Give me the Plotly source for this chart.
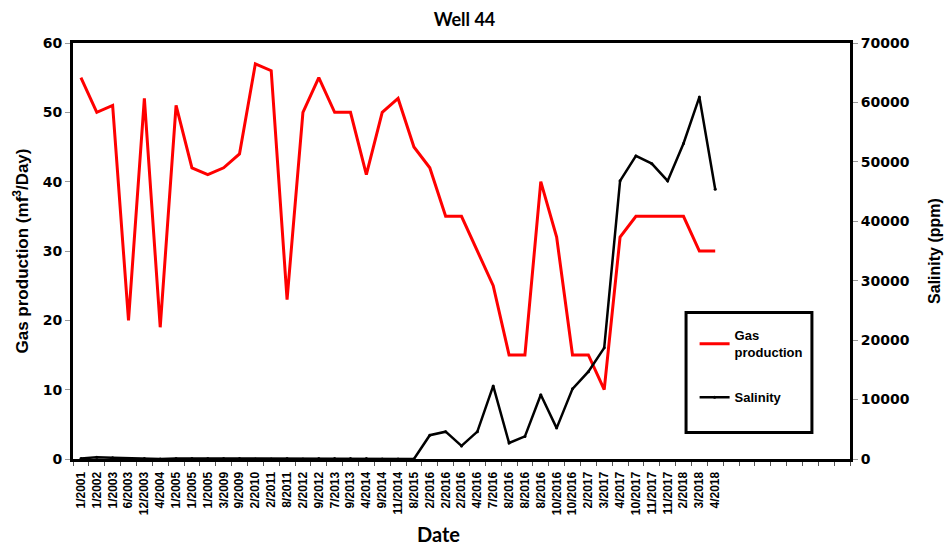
import plotly.graph_objects as go

dates = ["1/2001","1/2002","1/2003","6/2003","12/2003","4/2004","1/2005","1/2005","1/2005","3/2009",
         "9/2009","2/2010","2/2011","8/2011","2/2012","9/2012","7/2013","9/2013","4/2014","9/2014",
         "11/2014","8/2015","2/2016","2/2016","2/2016","4/2016","7/2016","8/2016","8/2016","8/2016",
         "10/2016","10/2016","2/2017","3/2017","4/2017","10/2017","11/2017","11/2017","2/2018","3/2018",
         "4/2018"]
gas = [55,50,51,20,52,19,51,42,41,42,44,57,56,23,50,55,50,50,41,50,52,45,42,35,35,30,25,15,15,40,
       32,15,15,10,32,35,35,35,35,30,30]
salinity = [100,300,200,100,100,0,100,100,100,100,100,0,0,100,0,100,100,100,100,0,0,0,
            4000,4600,2200,4600,12300,2700,3800,10800,5200,11800,14700,18700,46800,51000,49700,
            46800,53100,60900,45400]
n_slots = 49  # category slots on the axis (empty ones at the right)

xs = list(range(len(dates)))

ARIAL = "Liberation Sans"
fig = go.Figure()
fig.add_trace(go.Scatter(x=xs, y=gas, name="Gas<br>production", mode="lines",
                         line=dict(color="#ff0000", width=3), legendgroup="g"))
fig.add_trace(go.Scatter(x=xs, y=salinity, name="Salinity", mode="lines+markers", yaxis="y2",
                         line=dict(color="#000000", width=2.5), marker=dict(size=3, color="black"),
                         legendgroup="s"))

L, R, T, B = 73, 94, 43, 86
fig.update_layout(
    width=944, height=545,
    margin=dict(l=L, r=R, t=T, b=B, autoexpand=False),
    paper_bgcolor="white", plot_bgcolor="white",
    title=dict(text="Well 44", x=0.492, xref="container", xanchor="center", y=0.963, yanchor="middle",
               font=dict(family="Lato", size=18, color="black", weight="bold")),
    xaxis=dict(range=[-0.5, n_slots - 0.5], tickmode="array", tickvals=xs, ticktext=dates,
               tickangle=-90, ticks="outside", ticklen=5, tickcolor="rgba(0,0,0,0)",
               tickfont=dict(family=ARIAL, size=12, color="black", weight="bold"),
               showgrid=False, zeroline=False, automargin=False,
               showline=True, linecolor="black", linewidth=3, mirror=True,
               minor=dict(tickmode="linear", tick0=-0.5, dtick=1, ticks="outside", ticklen=4,
                          tickcolor="#555555", tickwidth=1, showgrid=False)),
    yaxis=dict(range=[0, 60], dtick=10, ticks="outside", ticklen=5, tickcolor="#999999",
               tickfont=dict(family="DejaVu Sans", size=14, color="black", weight="bold"),
               showgrid=False, zeroline=False, showline=True, linecolor="black", linewidth=3,
               automargin=False,
               title=dict(text="Gas production (mf<sup>3</sup>/Day)", standoff=10,
                          font=dict(family=ARIAL, size=17, color="black", weight="bold"))),
    yaxis2=dict(range=[0, 70000], dtick=10000, tickformat="d", overlaying="y", side="right",
                ticks="outside", ticklen=5, tickcolor="#999999", automargin=False,
                tickfont=dict(family="DejaVu Sans", size=14, color="black", weight="bold"),
                showgrid=False, zeroline=False, showline=True, linecolor="black", linewidth=3,
                title=dict(text="Salinity (ppm)", standoff=21,
                           font=dict(family=ARIAL, size=16, color="black", weight="bold"))),
    legend=dict(x=0.80, y=0.333, xanchor="left", yanchor="top", bgcolor="rgba(0,0,0,0)",
                font=dict(family=ARIAL, size=13, color="black", weight="bold"),
                traceorder="grouped", tracegroupgap=25, itemwidth=30),
    showlegend=True,
    shapes=[dict(type="rect", xref="paper", yref="paper", x0=0.789, x1=0.951, y0=0.064, y1=0.352,
                 line=dict(color="black", width=3), fillcolor="rgba(0,0,0,0)")],
    annotations=[dict(text="Date", xref="paper", yref="paper", x=0.470, y=-0.181,
                      xanchor="center", yanchor="middle", showarrow=False,
                      font=dict(family="Lato", size=20, color="black", weight="bold"))],
)

fig.write_html("out.html")
